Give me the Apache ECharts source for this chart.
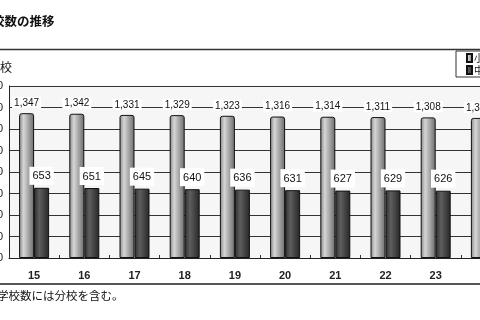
<!DOCTYPE html>
<html><head><meta charset="utf-8">
<script src="https://cdn.jsdelivr.net/npm/echarts@6/dist/echarts.min.js"></script>
<style>html,body{margin:0;padding:0;background:#fff}#c{width:480px;height:320px}</style>
</head><body><div id="c"></div>
<script>
const categories = ['15','16','17','18','19','20','21','22','23','24'];
const elementary = [1347,1342,1331,1329,1323,1316,1314,1311,1308,1303];
const juniorHigh = [653,651,645,640,636,631,627,629,626,622];
const seriesNames = ['小学校','中学校'];
const yMin = 0, yMax = 1600, yStep = 200;
const titleText = '校数の推移';
const unitText = '校';
const noteText = '学校数には分校を含む。';

const fmt = v => String(v).replace(/\B(?=(\d{3})+(?!\d))/g, ',');
const CJK = '"Noto Sans CJK JP","Noto Sans",sans-serif';

const chart = echarts.init(document.getElementById('c'), null, {renderer:'canvas'});
chart.setOption({
  animation: false,
  backgroundColor: '#fff',
  grid: {left: 9, right: -31, top: 86, bottom: 62, show: true, backgroundColor: '#f6f6f6', borderWidth: 0,
    containLabel: false, outerBoundsMode: 'none'},
  legend: {
    orient: 'vertical', left: 456, top: 51, itemWidth: 5, itemHeight: 8, itemGap: 0,
    padding: [1, 4, 1, 10], borderColor: '#333', borderWidth: 1, backgroundColor: '#fff',
    textStyle: {fontSize: 10, lineHeight: 12, color: '#111', fontFamily: CJK, padding: [0,0,0,-3]},
    icon: 'rect',
    data: seriesNames
  },
  xAxis: {
    type: 'category', data: categories,
    axisLine: {lineStyle: {color: '#222', width: 1}},
    axisTick: {show: true, inside: true, length: 3, lineStyle: {color: '#333'}},
    axisLabel: {fontSize: 11, fontWeight: 'bold', color: '#222', margin: 12, fontFamily: 'Liberation Sans, Arial, sans-serif'}
  },
  yAxis: {
    type: 'value', min: yMin, max: yMax, interval: yStep,
    axisLine: {show: true, lineStyle: {color: '#222'}},
    axisTick: {show: false},
    axisLabel: {fontSize: 11, color: '#222', margin: 6, formatter: fmt},
    splitLine: {lineStyle: {color: '#333', width: 1}}
  },
  series: [
    {
      name: seriesNames[0], type: 'bar', data: elementary, barWidth: 15, barGap: '0%',
      itemStyle: {
        color: new echarts.graphic.LinearGradient(0,0,1,0,[
          {offset:0,color:'#858585'},{offset:0.3,color:'#d6d6d6'},{offset:0.55,color:'#b0b0b0'},{offset:1,color:'#6a6a6a'}]),
        borderColor: '#111', borderWidth: 1, borderRadius: [2,2,0,0]
      },
      label: {show: true, position: 'top', distance: 5, fontSize: 10, color: '#111',
        backgroundColor: '#fff', padding: [1,2,0,2], formatter: p => fmt(p.value),
        fontFamily: 'Liberation Sans, Arial, sans-serif'}
    },
    {
      name: seriesNames[1], type: 'bar', data: juniorHigh, barWidth: 15,
      itemStyle: {
        color: new echarts.graphic.LinearGradient(0,0,1,0,[
          {offset:0,color:'#2e2e2e'},{offset:0.35,color:'#5e5e5e'},{offset:1,color:'#262626'}]),
        borderColor: '#111', borderWidth: 1
      },
      label: {show: true, position: 'top', distance: 3, fontSize: 11, color: '#111',
        backgroundColor: '#fff', padding: [4,3,3,3], formatter: p => fmt(p.value),
        fontFamily: 'Liberation Sans, Arial, sans-serif'}
    }
  ],
  graphic: [
    {type: 'text', left: -8, top: 15, style: {text: titleText, fontSize: 12.5, fontWeight: 'bold', fill: '#111', fontFamily: CJK}},
    {type: 'line', shape: {x1: 0, y1: 49.5, x2: 480, y2: 49.5}, style: {stroke: '#333', lineWidth: 1.5}},
    {type: 'text', left: 0, top: 61, style: {text: unitText, fontSize: 12, fill: '#111', fontFamily: CJK}},
    {type: 'line', shape: {x1: 0, y1: 284, x2: 480, y2: 284}, style: {stroke: '#555', lineWidth: 2}},
    {type: 'text', left: -3, top: 290, style: {text: noteText, fontSize: 11.5, fill: '#111', fontFamily: CJK}}
  ]
});
</script></body></html>
